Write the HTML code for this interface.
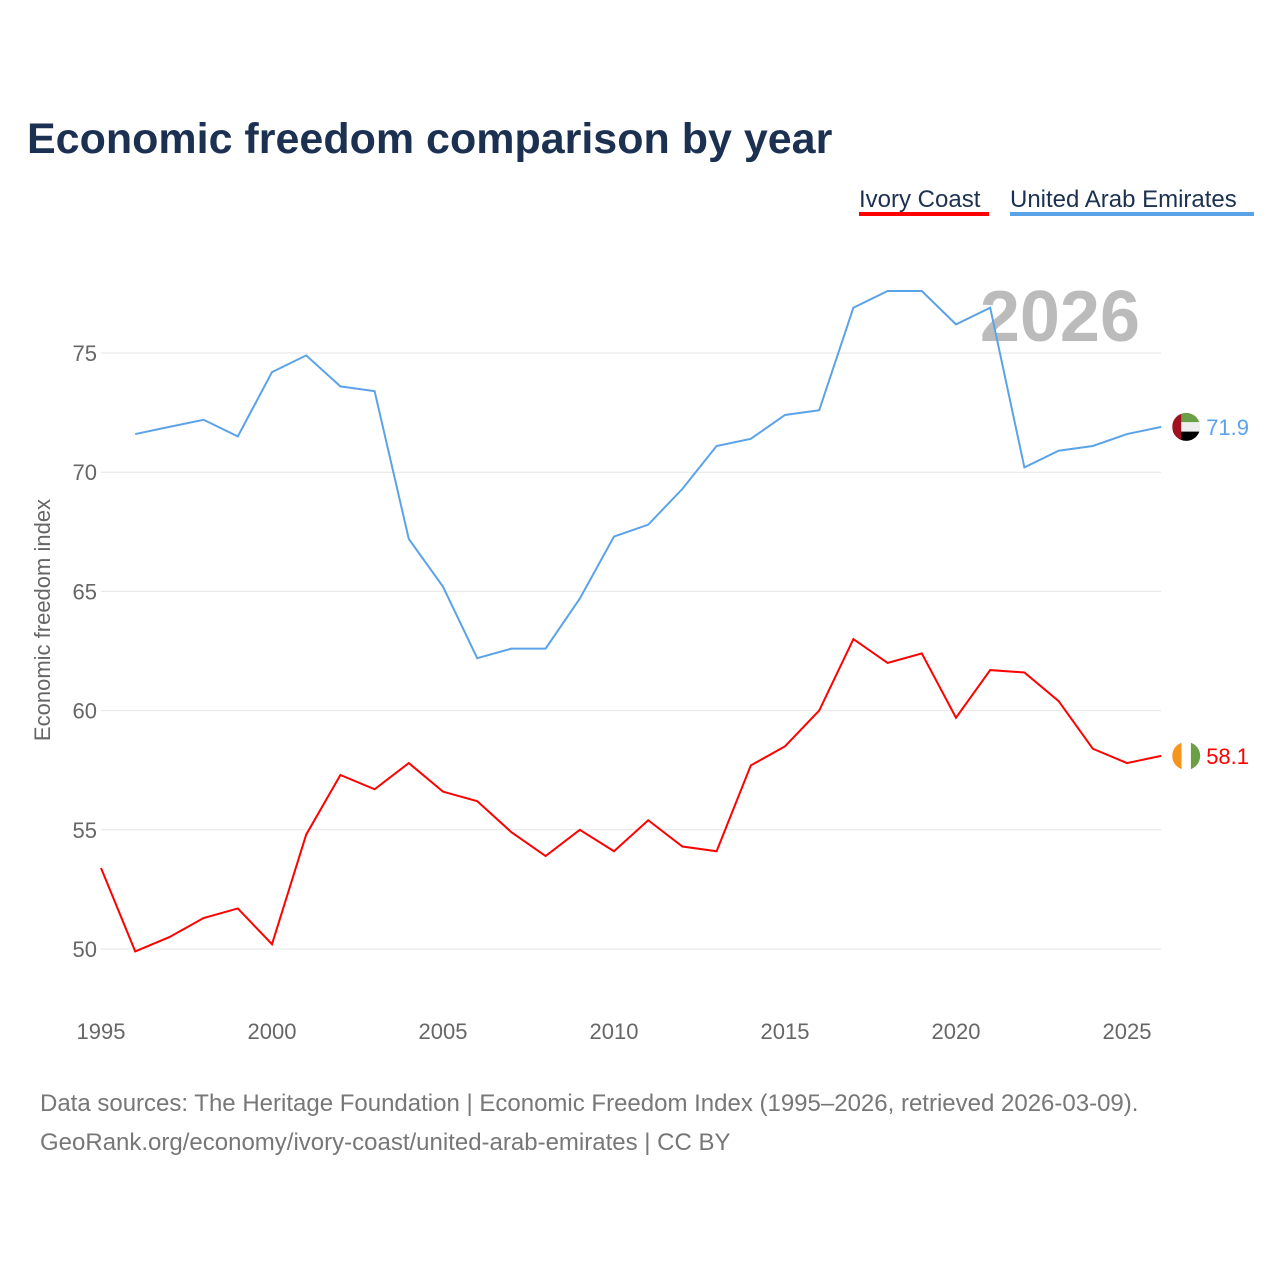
<!DOCTYPE html>
<html><head><meta charset="utf-8"><style>
body{margin:0;background:#fff;font-family:"Liberation Sans",sans-serif}
</style></head><body>
<svg id="c" width="1280" height="1280" xmlns="http://www.w3.org/2000/svg">
<text x="27" y="153" font-size="43" font-weight="bold" fill="#1c3152">Economic freedom comparison by year</text>
<g><text x="859" y="207" font-size="24" fill="#1c3152">Ivory Coast</text><rect x="859" y="212" width="130" height="4" fill="#f00"/></g>
<g><text x="1010" y="207" font-size="24" fill="#1c3152">United Arab Emirates</text><rect x="1010" y="212" width="244" height="4" fill="#5ba3e8"/></g>
<text x="1140" y="341" font-size="72" font-weight="bold" fill="#bbb" text-anchor="end">2026</text>
<g id="grid"></g><g id="lines"></g>
<text transform="translate(50,620) rotate(-90)" font-size="22" fill="#666" text-anchor="middle">Economic freedom index</text>
<text x="40" y="1111" font-size="24" fill="#777">Data sources: The Heritage Foundation | Economic Freedom Index (1995–2026, retrieved 2026-03-09).</text>
<text x="40" y="1150" font-size="24" fill="#777">GeoRank.org/economy/ivory-coast/united-arab-emirates | CC BY</text>
</svg>
<script>
const years=[1995,1996,1997,1998,1999,2000,2001,2002,2003,2004,2005,2006,2007,2008,2009,2010,2011,2012,2013,2014,2015,2016,2017,2018,2019,2020,2021,2022,2023,2024,2025,2026];
const ivory=[53.4,49.9,50.5,51.3,51.7,50.2,54.8,57.3,56.7,57.8,56.6,56.2,54.9,53.9,55.0,54.1,55.4,54.3,54.1,57.7,58.5,60.0,63.0,62.0,62.4,59.7,61.7,61.6,60.4,58.4,57.8,58.1];
const uae=[null,71.6,71.9,72.2,71.5,74.2,74.9,73.6,73.4,67.2,65.2,62.2,62.6,62.6,64.7,67.3,67.8,69.3,71.1,71.4,72.4,72.6,76.9,77.6,77.6,76.2,76.9,70.2,70.9,71.1,71.6,71.9];
const yTicks=[50,55,60,65,70,75];
const xTicks=[1995,2000,2005,2010,2015,2020,2025];
const NS="http://www.w3.org/2000/svg";
const X=y=>101+(y-1995)*34.2, Y=v=>949-(v-50)*23.84;
const grid=document.getElementById('grid'),lines=document.getElementById('lines');
function mk(t,a,p){const e=document.createElementNS(NS,t);for(const k in a)e.setAttribute(k,a[k]);p.appendChild(e);return e;}
yTicks.forEach(v=>{const l=mk('line',{x1:101,x2:1161,y1:Y(v),y2:Y(v),stroke:'#e6e6e6'},grid);


const t=mk('text',{x:97,y:Y(v)+8,'font-size':22,fill:'#666','text-anchor':'end'},grid);t.textContent=v;

});
xTicks.forEach(v=>{const t=mk('text',{x:X(v),y:1039,'font-size':22,fill:'#666','text-anchor':'middle'},grid);t.textContent=v;

});
const defs=mk('defs',{},document.getElementById('c'));
function series(vals,col,name,flag){let d='';vals.forEach((v,i)=>{if(v==null)return;d+=(d?'L':'M')+X(years[i])+','+Y(v);});
const p=mk('path',{d:d,fill:'none',stroke:col,'stroke-width':2},lines);


const last=vals[vals.length-1];const cx=X(years[years.length-1])+25,cy=Y(last);
const cp=mk('clipPath',{id:'cp-'+name},defs);mk('circle',{cx:cx,cy:cy,r:14},cp);
const g=mk('g',{'clip-path':'url(#cp-'+name+')'},lines);


if(flag==='ci'){mk('rect',{x:cx-14,y:cy-14,width:10,height:28,fill:'#f7941d'},g);mk('rect',{x:cx-4.7,y:cy-14,width:9.4,height:28,fill:'#fff'},g);mk('rect',{x:cx+4.7,y:cy-14,width:10,height:28,fill:'#6a9f45'},g);}
else{mk('rect',{x:cx-14,y:cy-14,width:28,height:9.4,fill:'#6a9f45'},g);mk('rect',{x:cx-14,y:cy-4.7,width:28,height:9.4,fill:'#eee'},g);mk('rect',{x:cx-14,y:cy+4.7,width:28,height:10,fill:'#000'},g);mk('rect',{x:cx-14,y:cy-14,width:9,height:28,fill:'#a0101e'},g);}
const t=mk('text',{x:cx+20,y:cy+8,'font-size':22,fill:col},lines);t.textContent=last.toFixed(1);

}
series(uae,'#5ba3e8','uae','ae');series(ivory,'#f00','ivory-coast','ci');
</script>
</body></html>
